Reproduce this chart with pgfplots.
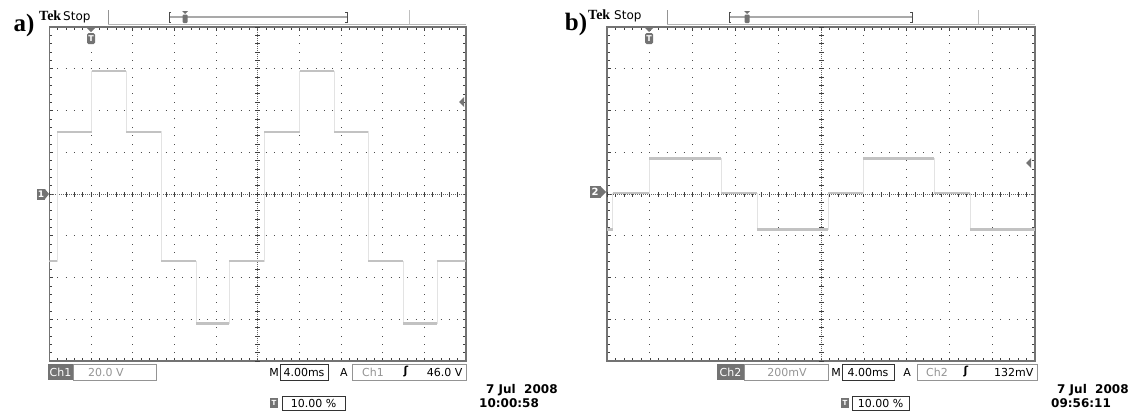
\documentclass[border=0pt]{standalone}
\usepackage{fontspec}
\setmainfont{DejaVu Sans}
\newfontfamily\tms{Liberation Serif}
\usepackage{pgfplots}
\pgfplotsset{compat=1.18}

\definecolor{frame}{gray}{0.45}
\definecolor{trace}{gray}{0.76}
\definecolor{edge}{gray}{0.89}
\definecolor{dim}{gray}{0.58}

% #1 = dot spacing along x (pt), #2 = dot spacing along y (pt)
\pgfplotsset{
  scope/.style 2 args={
    scale only axis, height=334pt,
    xmin=0, xmax=10, ymin=-4, ymax=4,
    xtick={0,...,10}, ytick={-4,...,4},
    minor x tick num=4, minor y tick num=4,
    xticklabels={}, yticklabels={},
    tick align=inside,
    major tick length=3.5pt, minor tick length=3pt,
    tick style={black!75, line width=0.6pt},
    axis line style={frame, line width=1.6pt},
    grid=major,
    major y grid style={black!70, line width=0.8pt,
      dash pattern=on 0.8pt off {#1pt-0.8pt}, dash phase=0.4pt},
    major x grid style={black!70, line width=0.8pt,
      dash pattern=on 0.8pt off {#2pt-0.8pt}, dash phase=0.4pt},
  },
}

\newcommand\scopefont{\fontsize{11}{13}\selectfont}
\newcommand\datefont{\fontsize{12}{14}\selectfont\bfseries}

\pgfplotstableread{
x      y
0      -1.60
0.185   1.49
1.017   2.95
1.84    1.49
2.68   -1.60
3.52   -3.10
4.32   -1.60
5.16    1.49
6.01    2.95
6.83    1.49
7.65   -1.60
8.49   -3.10
9.30   -1.60
10     -1.60
}\waveA

\pgfplotstableread{
x      y
0      -0.85
0.133   0.02
0.99    0.85
2.66    0.02
3.50   -0.85
5.16    0.02
5.99    0.85
7.65    0.02
8.48   -0.85
10     -0.85
}\waveB

\begin{document}
\begin{tikzpicture}
\useasboundingbox (0pt,0pt) rectangle (1140pt,-410pt);

% ---------------- panel a ----------------
\begin{axis}[scope={8.334}{8.35}, width=416.7pt,
  at={(49.3pt,-361pt)}, anchor=south west]
  \draw[black!60, line width=0.6pt, dash pattern=on 0.8pt off 1.2pt]
    (axis cs:0,0) -- (axis cs:10,0) (axis cs:5,-4) -- (axis cs:5,4);
  \draw[black!75, line width=5pt, dash pattern=on 0.7pt off 7.634pt, dash phase=0.35pt]
    (axis cs:0,0) -- (axis cs:10,0);
  \draw[black!75, line width=5pt, dash pattern=on 0.7pt off 7.65pt, dash phase=0.35pt]
    (axis cs:5,-4) -- (axis cs:5,4);
  \addplot[const plot, edge, line width=0.6pt] table {\waveA};
  \addplot[jump mark left, trace, line width=2.4pt] table {\waveA};
\end{axis}

% ---------------- panel b ----------------
\begin{axis}[scope={8.56}{8.35}, width=428pt,
  at={(607pt,-361pt)}, anchor=south west]
  \draw[black!60, line width=0.6pt, dash pattern=on 0.8pt off 1.2pt]
    (axis cs:0,0) -- (axis cs:10,0) (axis cs:5,-4) -- (axis cs:5,4);
  \draw[black!75, line width=5pt, dash pattern=on 0.7pt off 7.86pt, dash phase=0.35pt]
    (axis cs:0,0) -- (axis cs:10,0);
  \draw[black!75, line width=5pt, dash pattern=on 0.7pt off 7.65pt, dash phase=0.35pt]
    (axis cs:5,-4) -- (axis cs:5,4);
  \addplot[const plot, edge, line width=0.6pt] table {\waveB};
  \addplot[jump mark left, trace, line width=2.4pt] table {\waveB};
\end{axis}

% ---------------- screen decorations ----------------
\begin{scope}[font=\scopefont]
% panel labels
\node[font=\tms\bfseries\fontsize{25}{25}\selectfont] at (24pt,-25pt) {a)};
\node[font=\tms\bfseries\fontsize{25}{25}\selectfont] at (576pt,-24pt) {b)};
\node[font=\tms\bfseries\fontsize{14}{14}\selectfont, anchor=base west, inner sep=0pt] at (39pt,-20pt) {Tek};
\node[anchor=base west, inner sep=0pt, font=\fontsize{12}{12}\selectfont] at (63pt,-20pt) {Stop};
\node[font=\tms\bfseries\fontsize{14}{14}\selectfont, anchor=base west, inner sep=0pt] at (588pt,-19pt) {Tek};
\node[anchor=base west, inner sep=0pt, font=\fontsize{12}{12}\selectfont] at (614pt,-19pt) {Stop};

% top bar: separators, record bracket and trigger marks
\foreach \xa/\xb/\bl/\br/\tx/\tp/\gr in {108/409/169/347/185/91/466, 667/978/729/912/747/649/1035}{
  \draw[dim, line width=1pt] (\xa pt,-10pt) -- (\xa pt,-25pt);
  \draw[dim!60, line width=1pt] (\xb pt,-10pt) -- (\xb pt,-25pt);
  \draw[dim!70, line width=1pt] (\xa pt,-24.5pt) -- (\gr pt,-24.5pt);
  \draw[dim!80, line width=1.4pt] (\bl pt,-17pt) -- (\br pt,-17pt);
  \draw[black!70, line width=1pt] (\bl pt+2pt,-12pt) -- (\bl pt,-12pt) -- (\bl pt,-22pt) -- (\bl pt+2pt,-22pt);
  \draw[black!70, line width=1pt] (\br pt-2pt,-12pt) -- (\br pt,-12pt) -- (\br pt,-22pt) -- (\br pt-2pt,-22pt);
  \fill[frame] (\tx pt-3pt,-11pt) -- (\tx pt+3pt,-11pt) -- (\tx pt,-14pt) -- cycle;
  \fill[frame, rounded corners=1pt] (\tx pt-2.5pt,-14.5pt) rectangle (\tx pt+2.5pt,-23pt);
  \fill[frame] (\tp pt-4pt,-28pt) -- (\tp pt+4pt,-28pt) -- (\tp pt,-32pt) -- cycle;
  \node[fill=frame, text=white, rounded corners=1.5pt, inner sep=0.8pt,
        minimum width=8pt, minimum height=11pt,
        font=\bfseries\fontsize{8}{8}\selectfont] at (\tp pt,-38.5pt) {T};
}

% channel ground markers and trigger level arrows
\node[fill=frame, text=white, inner sep=0.5pt, minimum width=8pt, minimum height=11pt,
      font=\bfseries\fontsize{9}{9}\selectfont] at (41pt,-194pt) {1};
\fill[frame] (45pt,-189pt) -- (49pt,-194pt) -- (45pt,-199pt) -- cycle;
\node[fill=frame, text=white, inner sep=0.5pt, minimum width=11pt, minimum height=12pt,
      font=\bfseries\fontsize{10}{10}\selectfont] at (595pt,-192pt) {2};
\fill[frame] (600pt,-186pt) -- (606pt,-192pt) -- (600pt,-198pt) -- cycle;
\fill[frame] (459pt,-102pt) -- (464pt,-97pt) -- (464pt,-107pt) -- cycle;
\fill[frame] (1026pt,-163pt) -- (1031pt,-158pt) -- (1031pt,-168pt) -- cycle;

% status line, panel a
\fill[frame] (48pt,-364pt) rectangle (73pt,-380pt);
\node[text=white] at (60.5pt,-372pt) {Ch1};
\draw[dim, line width=0.8pt] (73pt,-364pt) rectangle (156pt,-380pt);
\node[text=dim] at (106pt,-372pt) {20.0 V};
\node at (274pt,-372pt) {M};
\draw[black!80, line width=0.8pt] (280pt,-364pt) rectangle (328pt,-380pt);
\node at (304pt,-372pt) {4.00ms};
\node at (344pt,-372pt) {A};
\draw[dim, line width=0.8pt] (352pt,-364pt) rectangle (466pt,-380pt);
\node[text=dim] at (373pt,-372pt) {Ch1};
\node[font=\scopefont\bfseries] at (406pt,-372pt) {ʃ};
\node[anchor=east] at (466pt,-372pt) {46.0 V};
\node[anchor=west, inner sep=0pt, font=\datefont] at (486pt,-390pt) {7 Jul\ \ 2008};
\node[anchor=west, inner sep=0pt, font=\datefont] at (479pt,-403pt) {10:00:58};
\node[fill=frame, text=white, inner sep=0.5pt, minimum width=8pt, minimum height=10pt,
      font=\bfseries\fontsize{7}{7}\selectfont] at (274pt,-403pt) {T};
\draw[black!80, line width=0.8pt] (282pt,-396pt) rectangle (345pt,-410pt);
\node at (313.5pt,-403pt) {10.00 \%};

% status line, panel b
\fill[frame] (717pt,-364pt) rectangle (744pt,-380pt);
\node[text=white] at (730.5pt,-372pt) {Ch2};
\draw[dim, line width=0.8pt] (744pt,-364pt) rectangle (828pt,-380pt);
\node[text=dim] at (787pt,-372pt) {200mV};
\node at (836pt,-372pt) {M};
\draw[black!80, line width=0.8pt] (842pt,-364pt) rectangle (894pt,-380pt);
\node at (868pt,-372pt) {4.00ms};
\node at (907pt,-372pt) {A};
\draw[dim, line width=0.8pt] (917pt,-364pt) rectangle (1037pt,-380pt);
\node[text=dim] at (937pt,-372pt) {Ch2};
\node[font=\scopefont\bfseries] at (966pt,-372pt) {ʃ};
\node[anchor=east] at (1037pt,-372pt) {132mV};
\node[anchor=west, inner sep=0pt, font=\datefont] at (1057pt,-390pt) {7 Jul\ \ 2008};
\node[anchor=west, inner sep=0pt, font=\datefont] at (1051pt,-403pt) {09:56:11};
\node[fill=frame, text=white, inner sep=0.5pt, minimum width=8pt, minimum height=10pt,
      font=\bfseries\fontsize{7}{7}\selectfont] at (845pt,-403pt) {T};
\draw[black!80, line width=0.8pt] (852pt,-396pt) rectangle (909pt,-410pt);
\node at (880.5pt,-403pt) {10.00 \%};
\end{scope}
\end{tikzpicture}
\end{document}
